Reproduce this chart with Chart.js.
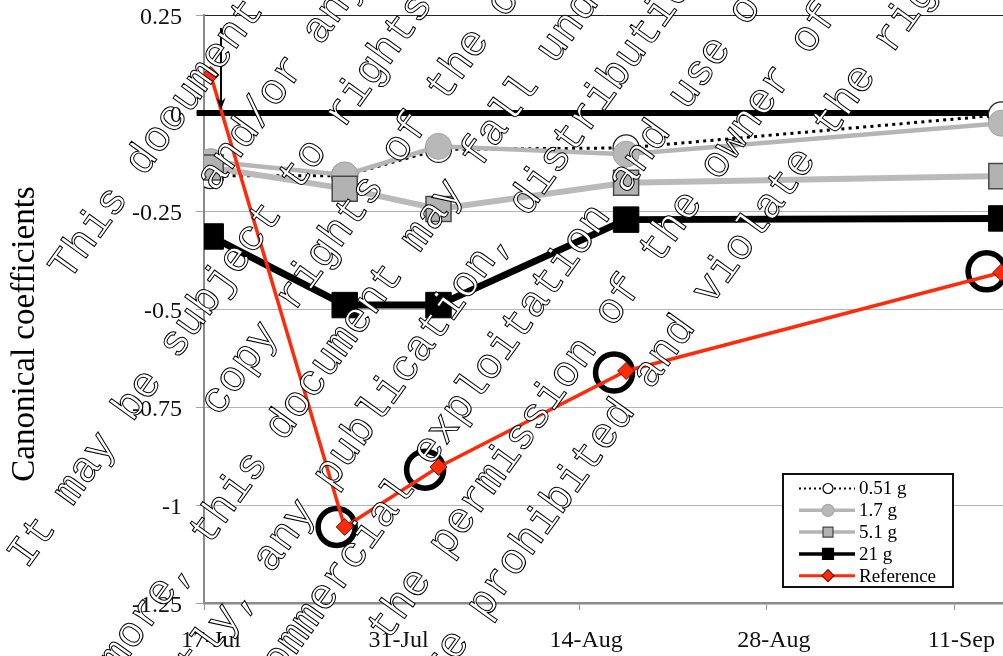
<!DOCTYPE html>
<html>
<head>
<meta charset="utf-8">
<script src="https://cdn.jsdelivr.net/npm/chart.js@4.4.1/dist/chart.umd.min.js"></script>
<style>
  html, body { margin: 0; padding: 0; background: #fff; overflow: hidden; }
  #wrap { position: relative; width: 1003px; height: 656px; overflow: hidden; }
  #inner { position: absolute; left: 0; top: -9px; width: 1028px; height: 665px; }
</style>
</head>
<body>
<div id="wrap"><div id="inner"><canvas id="chart"></canvas></div></div>
<script>
// sampling dates as days after 17 July
const sampleDays = [0.5, 10.5, 17.5, 31.5, 59.5];
const seriesNames = ['0.51 g', '1.7 g', '5.1 g', '21 g', 'Reference'];
const coef051 = [-0.16, -0.16, -0.093, -0.089, -0.005];
const coef17 = [-0.124, -0.158, -0.085, -0.105, -0.026];
const coef51 = [-0.139, -0.193, -0.245, -0.178, -0.161];
const coef21 = [-0.315, -0.49, -0.49, -0.272, -0.269];
const coefRef = [0.097, -1.056, -0.903, -0.658, -0.407];

// black rings around the reference points
const ringDays = [9.9, 16.5, 30.6, 58.4];
const ringCoef = [-1.056, -0.91, -0.662, -0.404];

// thick line at zero and the arrow pointing at it
const zeroLineDays = [-0.55, 62];
const arrowDay = 1.27;
const arrowFrom = 0.217;
const arrowTo = 0.008;

const xTickDays = [0, 14, 28, 42, 56];
const xTickLabels = ['17-Jul', '31-Jul', '14-Aug', '28-Aug', '11-Sep'];
const yTickValues = [0.25, 0, -0.25, -0.5, -0.75, -1, -1.25];
const yTickLabels = ['0.25', '0', '-0.25', '-0.5', '-0.75', '-1', '-1.25'];
const yTitle = 'Canonical coefficients';

// diagonal watermark over the figure
const watermarkLines = [
  'This document',
  'and/or any',
  'It may be subject to rights of the',
  'copy rights of the owner',
  'Furthermore, this document may fall under',
  'Consequently, any publication, distribution',
  'commercial exploitation and use of',
  'the permission of the owner of',
  'are prohibited and violate the rights',
];
const watermarkStart = [-189, -31, -447, -211, -658, -669, -412, -296, -324];

// the canvas sits 9px above the page top
const pageShift = 9;

function pts(days, values) {
  return days.map((d, i) => ({ x: d, y: values[i] }));
}

const serif = '"Liberation Serif", "Times New Roman", serif';

const datasets = [
  {
    label: 'Reference', data: pts(sampleDays, coefRef), order: 0,
    borderColor: '#ff2a0a', borderWidth: 3.5,
    pointStyle: 'rectRot', pointRadius: 8.5,
    pointBackgroundColor: '#ff2a0a', pointBorderColor: '#6e1200', pointBorderWidth: 1,
  },
  {
    label: 'rings', data: pts(ringDays, ringCoef), order: 1, showLine: false,
    pointStyle: 'circle', pointRadius: 18.5,
    pointBackgroundColor: 'rgba(0,0,0,0)', pointBorderColor: '#000', pointBorderWidth: 5.5,
  },
  {
    label: '21 g', data: pts(sampleDays, coef21), order: 2,
    borderColor: '#000', borderWidth: 7,
    pointStyle: 'rect', pointRadius: 18,
    pointBackgroundColor: '#000', pointBorderColor: '#000', pointBorderWidth: 1,
  },
  {
    label: '5.1 g', data: pts(sampleDays, coef51), order: 3,
    borderColor: '#bababa', borderWidth: 6,
    pointStyle: 'rect', pointRadius: 17.7,
    pointBackgroundColor: '#b2b2b2', pointBorderColor: '#4a4a4a', pointBorderWidth: 1.5,
  },
  {
    label: '1.7 g', data: pts(sampleDays, coef17), order: 4,
    borderColor: '#b5b5b5', borderWidth: 4.5,
    pointStyle: 'circle', pointRadius: 13,
    pointBackgroundColor: '#b8b8b8', pointBorderColor: '#a4a4a4', pointBorderWidth: 1,
  },
  {
    label: '0.51 g', data: pts(sampleDays, coef051), order: 5,
    borderColor: '#000', borderWidth: 3, borderDash: [3, 4.3],
    pointStyle: 'circle', pointRadius: 13,
    pointBackgroundColor: '#fff', pointBorderColor: '#222', pointBorderWidth: 1.3,
  },
  {
    label: 'zero', data: zeroLineDays.map((d) => ({ x: d, y: 0 })), order: 6,
    borderColor: '#000', borderWidth: 6, pointRadius: 0, clip: false,
  },
];

function drawMarker(ctx, style, x, y, r, fill, stroke, lw) {
  ctx.beginPath();
  if (style === 'circle') {
    ctx.arc(x, y, r, 0, Math.PI * 2);
  } else if (style === 'rect') {
    ctx.rect(x - r, y - r, 2 * r, 2 * r);
  } else {
    ctx.moveTo(x, y - r);
    ctx.lineTo(x + r, y);
    ctx.lineTo(x, y + r);
    ctx.lineTo(x - r, y);
    ctx.closePath();
  }
  ctx.fillStyle = fill;
  ctx.fill();
  ctx.lineWidth = lw;
  ctx.strokeStyle = stroke;
  ctx.stroke();
}

const legendBox = { left: 783, top: 474, width: 170, height: 113, firstRow: 488.5, rowGap: 21.8 };
const legendStyle = {
  '0.51 g': { line: '#000', width: 2, dash: [2, 3], marker: 'circle', r: 5, fill: '#fff', stroke: '#000' },
  '1.7 g': { line: '#b5b5b5', width: 3.5, dash: [], marker: 'circle', r: 6, fill: '#b8b8b8', stroke: '#a8a8a8' },
  '5.1 g': { line: '#b5b5b5', width: 3.5, dash: [], marker: 'rect', r: 5, fill: '#b2b2b2', stroke: '#444' },
  '21 g': { line: '#000', width: 3.5, dash: [], marker: 'rect', r: 5.5, fill: '#000', stroke: '#000' },
  'Reference': { line: '#ff2a0a', width: 3, dash: [], marker: 'diamond', r: 6, fill: '#ff2a0a', stroke: '#6e1200' },
};

const decorations = {
  id: 'decorations',
  afterDatasetsDraw(chart) {
    const ctx = chart.ctx;
    const x = chart.scales.x.getPixelForValue(arrowDay);
    const y0 = chart.scales.y.getPixelForValue(arrowFrom);
    const y1 = chart.scales.y.getPixelForValue(arrowTo);
    ctx.save();
    ctx.strokeStyle = '#000';
    ctx.fillStyle = '#000';
    ctx.lineWidth = 2;
    ctx.beginPath();
    ctx.moveTo(x, y0);
    ctx.lineTo(x, y1 - 8);
    ctx.stroke();
    ctx.beginPath();
    ctx.moveTo(x - 4.5, y1 - 12);
    ctx.lineTo(x, y1);
    ctx.lineTo(x + 4.5, y1 - 12);
    ctx.lineTo(x, y1 - 8);
    ctx.closePath();
    ctx.fill();
    ctx.restore();
  },
  afterDraw(chart) {
    const ctx = chart.ctx;
    ctx.save();
    ctx.translate(0, pageShift);

    // y axis title
    ctx.save();
    ctx.translate(34, 334);
    ctx.rotate(-Math.PI / 2);
    ctx.font = '33px ' + serif;
    ctx.fillStyle = '#000';
    ctx.textAlign = 'center';
    ctx.textBaseline = 'alphabetic';
    ctx.fillText(yTitle, 0, 0);
    ctx.restore();

    // legend
    ctx.fillStyle = '#fff';
    ctx.fillRect(legendBox.left, legendBox.top, legendBox.width, legendBox.height);
    ctx.strokeStyle = '#111';
    ctx.lineWidth = 2;
    ctx.strokeRect(legendBox.left, legendBox.top, legendBox.width, legendBox.height);
    seriesNames.forEach((name, i) => {
      const st = legendStyle[name];
      const y = legendBox.firstRow + i * legendBox.rowGap;
      ctx.save();
      ctx.strokeStyle = st.line;
      ctx.lineWidth = st.width;
      ctx.setLineDash(st.dash);
      ctx.beginPath();
      ctx.moveTo(799, y);
      ctx.lineTo(855, y);
      ctx.stroke();
      ctx.restore();
      drawMarker(ctx, st.marker, 828, y, st.r, st.fill, st.stroke, 1.2);
      ctx.fillStyle = '#000';
      ctx.font = '19px ' + serif;
      ctx.textAlign = 'left';
      ctx.textBaseline = 'middle';
      ctx.fillText(name, 859, y + 1);
    });

    // watermark
    const ang = 54.3 * Math.PI / 180;
    const ux = Math.cos(ang), uy = -Math.sin(ang);
    const nx = Math.sin(ang), ny = Math.cos(ang);
    ctx.font = '43px "Liberation Mono", monospace';
    ctx.textAlign = 'left';
    ctx.textBaseline = 'middle';
    ctx.lineWidth = 1;
    watermarkLines.forEach((text, i) => {
      const s = watermarkStart[i];
      const d = 209 + 67 * i;
      ctx.save();
      ctx.translate(s * ux + d * nx, s * uy + d * ny);
      ctx.rotate(-ang);
      ctx.fillStyle = '#fff';
      ctx.fillText(text, 0, 0);
      ctx.strokeStyle = '#000';
      ctx.strokeText(text, 0, 0);
      ctx.restore();
    });
    ctx.restore();
  },
};

new Chart(document.getElementById('chart'), {
  type: 'line',
  data: { datasets: datasets },
  options: {
    responsive: true,
    maintainAspectRatio: false,
    animation: false,
    events: [],
    layout: { padding: { top: 7, right: 0, bottom: 0, left: 0 } },
    plugins: { legend: { display: false }, tooltip: { enabled: false } },
    scales: {
      x: {
        type: 'linear',
        min: 0,
        max: 59.7,
        afterBuildTicks: (axis) => { axis.ticks = xTickDays.map((v) => ({ value: v })); },
        afterFit: (axis) => {
          axis.height = 53;
          axis.paddingLeft = 0;
          axis.paddingRight = 0;
        },
        grid: { drawOnChartArea: false, drawTicks: true, tickLength: 7, tickColor: '#9a9a9a', tickWidth: 1.2 },
        border: { color: '#8a8a8a', width: 2.5 },
        ticks: {
          autoSkip: false, maxRotation: 0, labelOffset: 7, padding: 16, color: '#111',
          font: { family: serif, size: 24 },
          callback: (v) => xTickLabels[xTickDays.indexOf(v)],
        },
      },
      y: {
        min: -1.25,
        max: 0.25,
        afterBuildTicks: (axis) => { axis.ticks = yTickValues.map((v) => ({ value: v })); },
        afterFit: (axis) => {
          axis.width = 204;
          axis.paddingTop = 0;
          axis.paddingBottom = 0;
        },
        grid: {
          color: (c) => (c.tick && c.tick.value === 0.25 ? '#222' : '#b4b4b4'),
          lineWidth: 1, tickLength: 8, tickColor: '#a0a0a0',
        },
        border: { color: '#8a8a8a', width: 2 },
        ticks: {
          padding: 14, labelOffset: 3, color: '#111',
          font: { family: serif, size: 24 },
          callback: (v) => yTickLabels[yTickValues.indexOf(v)],
        },
      },
    },
  },
  plugins: [decorations],
});
</script>
</body>
</html>
